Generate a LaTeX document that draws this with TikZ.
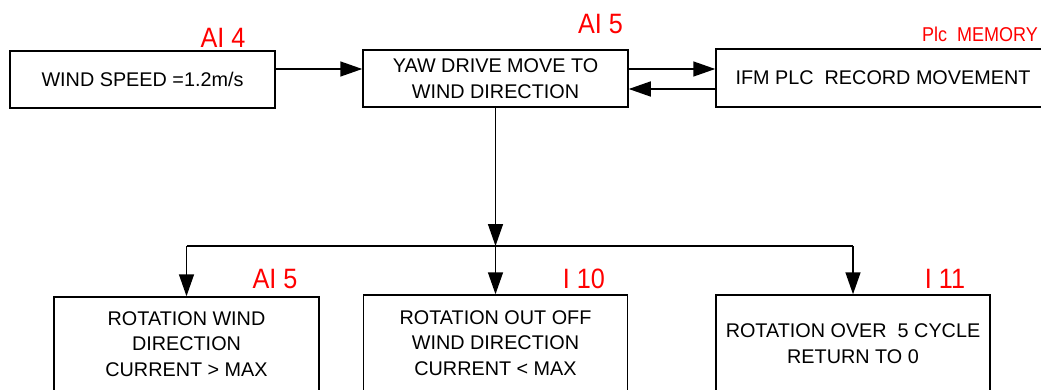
\documentclass[tikz,border=0pt]{standalone}
\usepackage{fontspec}
\setmainfont{Liberation Sans}
\usetikzlibrary{arrows.meta}
\begin{document}
\begin{tikzpicture}[x=1pt,y=-1pt,
  box/.style={draw, line width=1.5pt, rectangle, inner sep=0pt, align=center,
    font=\fontsize{19.8}{25.5}\selectfont},
  tag/.style={text=red, inner sep=0pt, anchor=base, xscale=0.9,
    font=\fontsize{28}{30}\selectfont},
  smalltag/.style={text=red, inner sep=0pt, anchor=base, xscale=0.9,
    font=\fontsize{20}{22}\selectfont},
  link/.style={line width=1.5pt},
  arr/.style={link, -{Triangle[length=22pt,width=15pt]}}]
\clip (0,0) rectangle (1041,390);

% upper row
\node[box, minimum width=265pt, minimum height=57pt] (speed) at (142.5,79.5) {WIND SPEED =1.2m/s};
\node[box, minimum width=265pt, minimum height=57pt] (yaw) at (495.5,78.5) {YAW DRIVE MOVE TO\\WIND DIRECTION};
\node[box, minimum width=334pt, minimum height=58pt] (plc) at (883,78) {IFM PLC~~RECORD MOVEMENT};

% lower row
\node[box, minimum width=265pt, minimum height=94pt] (rotA) at (186.5,344) {ROTATION WIND\\DIRECTION\\CURRENT > MAX};
\node[box, minimum width=264pt, minimum height=96pt] (rotB) at (495.5,343) {ROTATION OUT OFF\\WIND DIRECTION\\CURRENT < MAX};
\node[box, minimum width=274pt, minimum height=97pt] (rotC) at (853,343.5) {ROTATION OVER~~5 CYCLE\\RETURN TO 0};

% signal tags
\node[tag] (t1) at (223,48) {AI 4};
\node[tag] (t2) at (600.5,34) {AI 5};
\node[smalltag] (t3) at (980,42) {Plc~~MEMORY};
\node[tag] (t4) at (275,288) {AI 5};
\node[tag] (t5) at (584,288) {I 10};
\node[tag] (t6) at (945,288) {I 11};

% levels of the horizontal links
\coordinate (hi) at (0,69);
\coordinate (lo) at (0,89);
\coordinate (split) at (495.5,246);

\draw[arr] (speed.east |- hi) -- (yaw.west |- hi);
\draw[arr] (yaw.east |- hi) -- (plc.west |- hi);
\draw[arr] (plc.west |- lo) -- (yaw.east |- lo);

\draw[arr] (yaw.south) -- (split);
\draw[link] (rotA.north |- split) -- (rotC.north |- split);
\draw[arr] (rotA.north |- split) -- (rotA.north);
\draw[arr] (split) -- (rotB.north);
\draw[arr] (rotC.north |- split) -- (rotC.north);
\end{tikzpicture}
\end{document}
